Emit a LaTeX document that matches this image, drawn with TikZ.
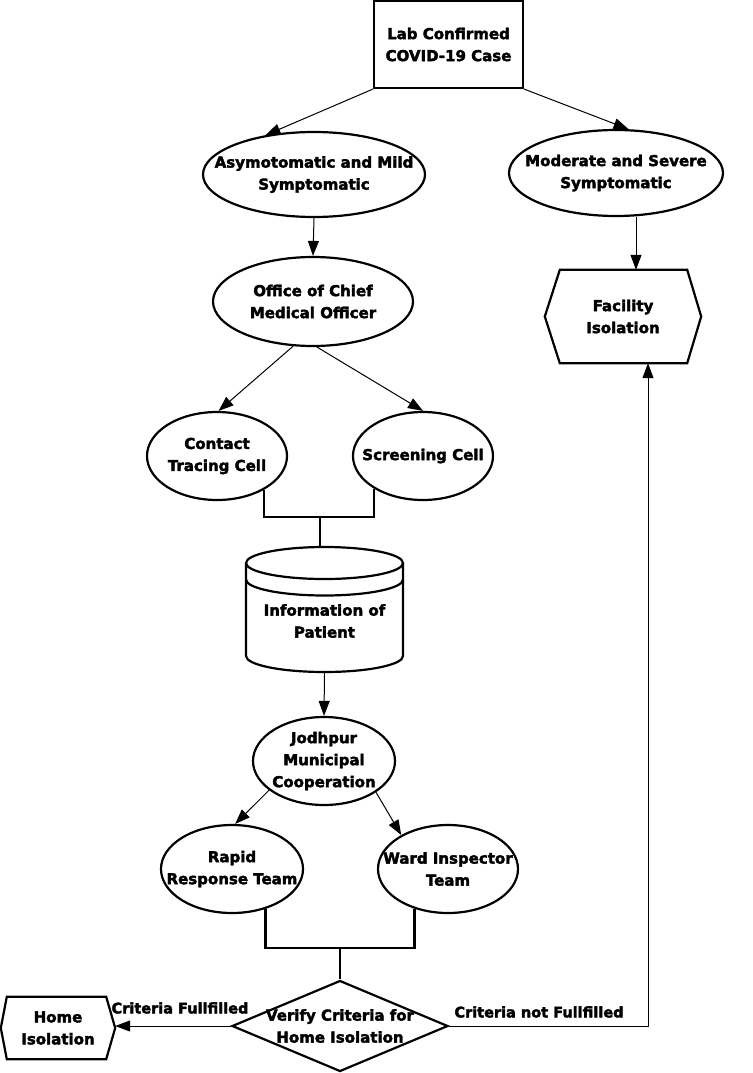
\documentclass[tikz,border=0pt]{standalone}
\usepackage{fontspec}
\setmainfont{DejaVu Sans}[BoldFeatures={FakeBold=2.5}]
\usetikzlibrary{shapes.geometric,arrows.meta,calc}
\tikzset{
  shp/.style={draw, line width=2.2pt, inner sep=0pt},
  ell/.style={shp, ellipse},
  box/.style={inner sep=0pt, rectangle},
  txt/.style={align=center, inner sep=0pt, font=\bfseries\fontsize{15}{22}\selectfont},
  lbl/.style={inner sep=0pt, font=\bfseries\fontsize{14.5}{18}\selectfont},
  arr/.style={line width=1pt, -{Triangle[length=15pt,width=11pt]}},
  brk/.style={line width=2.2pt},
}
\begin{document}
\begin{tikzpicture}[x=1pt,y=-1pt]
\path[use as bounding box] (0,0) rectangle (752,1073);
% shapes
\node[shp, rectangle, minimum width=149pt, minimum height=87pt] (lab) at (448.5,44.5) {};
\node[txt] (labt) at (lab.center) {Lab Confirmed\\COVID-19 Case};
\node[ell, minimum width=222pt, minimum height=85pt] (asym) at (314,174.5) {};
\node[txt] (asymt) at (asym.center) {Asymotomatic and Mild\\Symptomatic};
\node[ell, minimum width=214pt, minimum height=86pt] (mod) at (616,173) {};
\node[txt] (modt) at (mod.center) {Moderate and Severe\\Symptomatic};
\node[ell, minimum width=200pt, minimum height=89pt] (off) at (313,301.5) {};
\node[txt] (offt) at (off.center) {Office of Chief\\Medical Officer};
\node[box, minimum width=156pt, minimum height=93pt] (fac) at (623,316.5) {};
\draw[shp] (fac.west) -- ([xshift=15pt]fac.north west) -- ([xshift=-14pt]fac.north east) -- (fac.east) -- ([xshift=-14pt]fac.south east) -- ([xshift=15pt]fac.south west) -- cycle;
\node[txt] (fact) at (fac.center) {Facility\\Isolation};
\node[ell, minimum width=140pt, minimum height=88pt] (ct) at (217,456) {};
\node[txt] (ctt) at (ct.center) {Contact\\Tracing Cell};
\node[ell, minimum width=140pt, minimum height=88pt] (sc) at (423,456) {};
\node[txt] (sct) at (sc.center) {Screening Cell};
\node[box, minimum width=157pt, minimum height=125pt] (db) at (324.5,609.5) {};
\begin{scope}[shift={(db.center)}]
  \draw[shp] (0,-46.5) ellipse [x radius=78.5pt, y radius=16pt];
  \draw[shp] (-78.5,-46.5) -- (-78.5,46.5) arc[start angle=180, end angle=360, x radius=78.5pt, y radius=16pt] -- (78.5,-46.5);
  \draw[shp] (-78.5,-30) arc[start angle=180, end angle=360, x radius=78.5pt, y radius=16pt];
\end{scope}
\node[txt] (dbt) at (324.5,621) {Information of\\Patient};
\node[ell, minimum width=142pt, minimum height=88pt] (jod) at (324,761) {};
\node[txt] (jodt) at (jod.center) {Jodhpur\\Municipal\\Cooperation};
\node[ell, minimum width=142pt, minimum height=88pt] (rr) at (232,869) {};
\node[txt] (rrt) at (rr.center) {Rapid\\Response Team};
\node[ell, minimum width=140pt, minimum height=88pt] (wi) at (448,869) {};
\node[txt] (wit) at (wi.center) {Ward Inspector\\Team};
\node[shp, diamond, minimum width=216pt, minimum height=91pt] (ver) at (340,1026) {};
\node[txt] (vert) at (ver.center) {Verify Criteria for\\Home Isolation};
\node[box, minimum width=114pt, minimum height=62pt] (home) at (58,1028) {};
\draw[shp] (home.west) -- ([xshift=6pt]home.north west) -- ([xshift=-9pt]home.north east) -- (home.east) -- ([xshift=-9pt]home.south east) -- ([xshift=6pt]home.south west) -- cycle;
\node[txt] (homet) at (home.center) {Home\\Isolation};
% junctions
\coordinate (j1) at (320,517);
\coordinate (j2) at (340,948);
% connectors
\draw[arr] (lab.south west) -- (asym.141);
\draw[arr] (lab.south east) -- (mod.74);
\draw[arr] (asym.south) -- (off.north);
\draw[arr] ([xshift=20pt]mod.south) -- ([xshift=20pt]mod.south |- fac.north);
\draw[arr] (off.246) -- (ct.88);
\draw[arr] (off.275) -- (sc.north);
\draw[brk] (ct.-36) |- (j1) -| (sc.214);
\draw[brk] (j1) -- (j1 |- db.north);
\draw[arr] (db.south) -- (jod.north);
\draw[arr] (jod.208) -- (rr.86);
\draw[arr] (jod.329) -- (wi.144);
\draw[brk] (rr.-50) |- (j2) -| (wi.230);
\draw[brk] (j2) -- (ver.north);
\draw[arr] (ver.west) -- (ver.west -| home.east);
\draw[arr] (ver.east) -| ([xshift=25pt]fac.south);
\node[lbl] (l1) at (180,1008) {Criteria Fullfilled};
\node[lbl] (l2) at (539,1012) {Criteria not Fullfilled};
\end{tikzpicture}
\end{document}
